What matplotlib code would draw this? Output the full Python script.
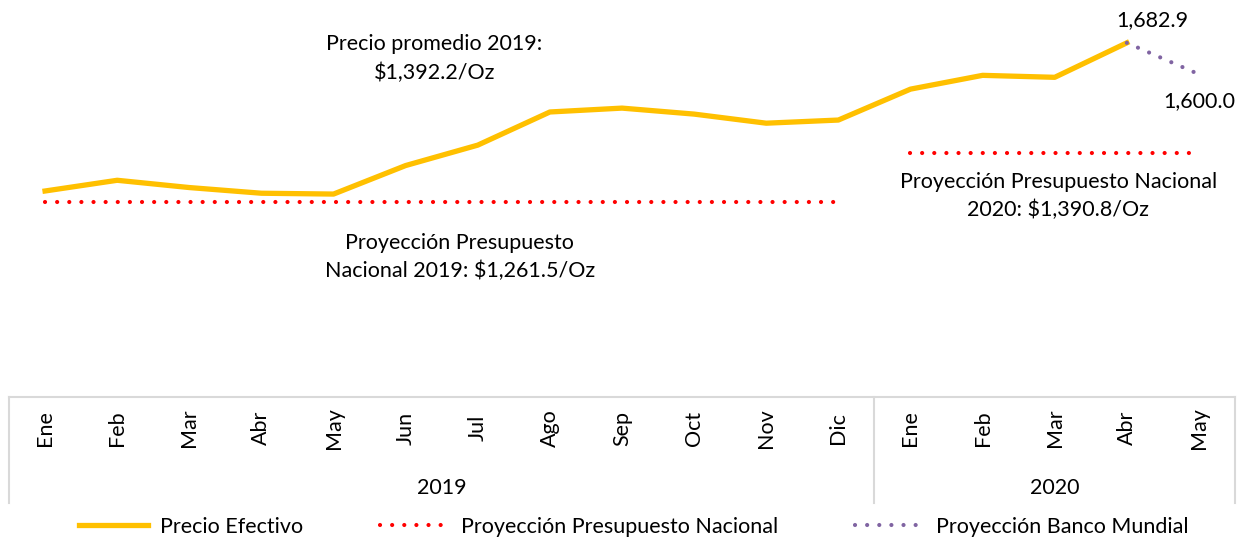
import matplotlib.pyplot as plt
from matplotlib.lines import Line2D

plt.rcParams['font.family'] = ['Lato', 'DejaVu Sans']

months = ["Ene", "Feb", "Mar", "Abr", "May", "Jun", "Jul", "Ago", "Sep", "Oct", "Nov", "Dic",
          "Ene", "Feb", "Mar", "Abr", "May"]
years = ["2019", "2020"]
year_counts = [12, 5]

precio = [1291.8, 1320.1, 1300.9, 1285.9, 1283.7, 1359.0, 1412.9, 1500.4, 1510.6,
          1494.8, 1470.8, 1479.1, 1560.7, 1597.1, 1591.9, 1682.9]
banco_mundial = [1682.9, 1600.0]
presupuesto_2019 = 1261.5
presupuesto_2020 = 1390.8

GOLD = "#FFC000"
RED = "#FF0000"
PURPLE = "#8064A2"
GRID = "#D9D9D9"
FS = 15.5

fig = plt.figure(figsize=(12.45, 5.43), dpi=100)
W, H = 1245, 543
left, right = 9 / W, 1235 / W
ax = fig.add_axes([left, (H - 397) / H, right - left, 397 / H])
ax.set_xlim(-0.5, 16.5)
ax.set_ylim(748, 1796)
ax.axis("off")

dot = (0, (0.01, 2.9))
ax.plot(range(len(precio)), precio, color=GOLD, lw=3.8, solid_joinstyle="round")
ax.plot([0, 11], [presupuesto_2019] * 2, color=RED, lw=3, ls=dot, dash_capstyle="round")
ax.plot([12, 16], [presupuesto_2020] * 2, color=RED, lw=3, ls=dot, dash_capstyle="round")
ax.plot([15, 16], banco_mundial, color=PURPLE, lw=3, ls=dot, dash_capstyle="round")

ax.text(15.35, 1682.9 + 33, "{:,.1f}".format(banco_mundial[0]), ha="center", va="bottom", fontsize=FS)
ax.text(16.0, 1600.0 - 45, "{:,.1f}".format(banco_mundial[1]), ha="center", va="top", fontsize=FS)
ax.text(5.4, 1642, "Precio promedio 2019:\n$1,392.2/Oz", ha="center", va="center",
        fontsize=FS, linespacing=1.5)
ax.text(5.75, 1118, "Proyección Presupuesto\nNacional 2019: $1,261.5/Oz", ha="center", va="center",
        fontsize=FS, linespacing=1.5)
ax.text(14.05, 1278, "Proyección Presupuesto Nacional\n2020: $1,390.8/Oz", ha="center", va="center",
        fontsize=FS, linespacing=1.5)

# category axis box
cax = fig.add_axes([left, (H - 503) / H, right - left, 106 / H])
cax.set_xlim(-0.5, 16.5)
cax.set_ylim(0, 106)
cax.axis("off")
cax.plot([-0.5, 16.5], [106, 106], color=GRID, lw=1.5, clip_on=False)
start = -0.5
for cnt in year_counts:
    cax.plot([start, start], [0, 106], color=GRID, lw=1.5, clip_on=False)
    start += cnt
cax.plot([start, start], [0, 106], color=GRID, lw=1.5, clip_on=False)
for i, m in enumerate(months):
    cax.text(i, 75, m, rotation=90, ha="center", va="center", fontsize=FS)
start = -0.5
for yr, cnt in zip(years, year_counts):
    cax.text(start + cnt / 2, 15, yr, ha="center", va="center", fontsize=FS)
    start += cnt

handles = [
    Line2D([], [], color=GOLD, lw=3.8),
    Line2D([], [], color=RED, lw=3, ls=dot, dash_capstyle="round"),
    Line2D([], [], color=PURPLE, lw=3, ls=dot, dash_capstyle="round"),
]
labels = ["Precio Efectivo", "Proyección Presupuesto Nacional", "Proyección Banco Mundial"]
fig.legend(handles, labels, loc="center", bbox_to_anchor=(0.509, 16 / H), ncol=3, frameon=False,
           fontsize=FS, handlelength=3.2, handletextpad=0.55, columnspacing=3.57)

fig.savefig("out.png", dpi=100)
